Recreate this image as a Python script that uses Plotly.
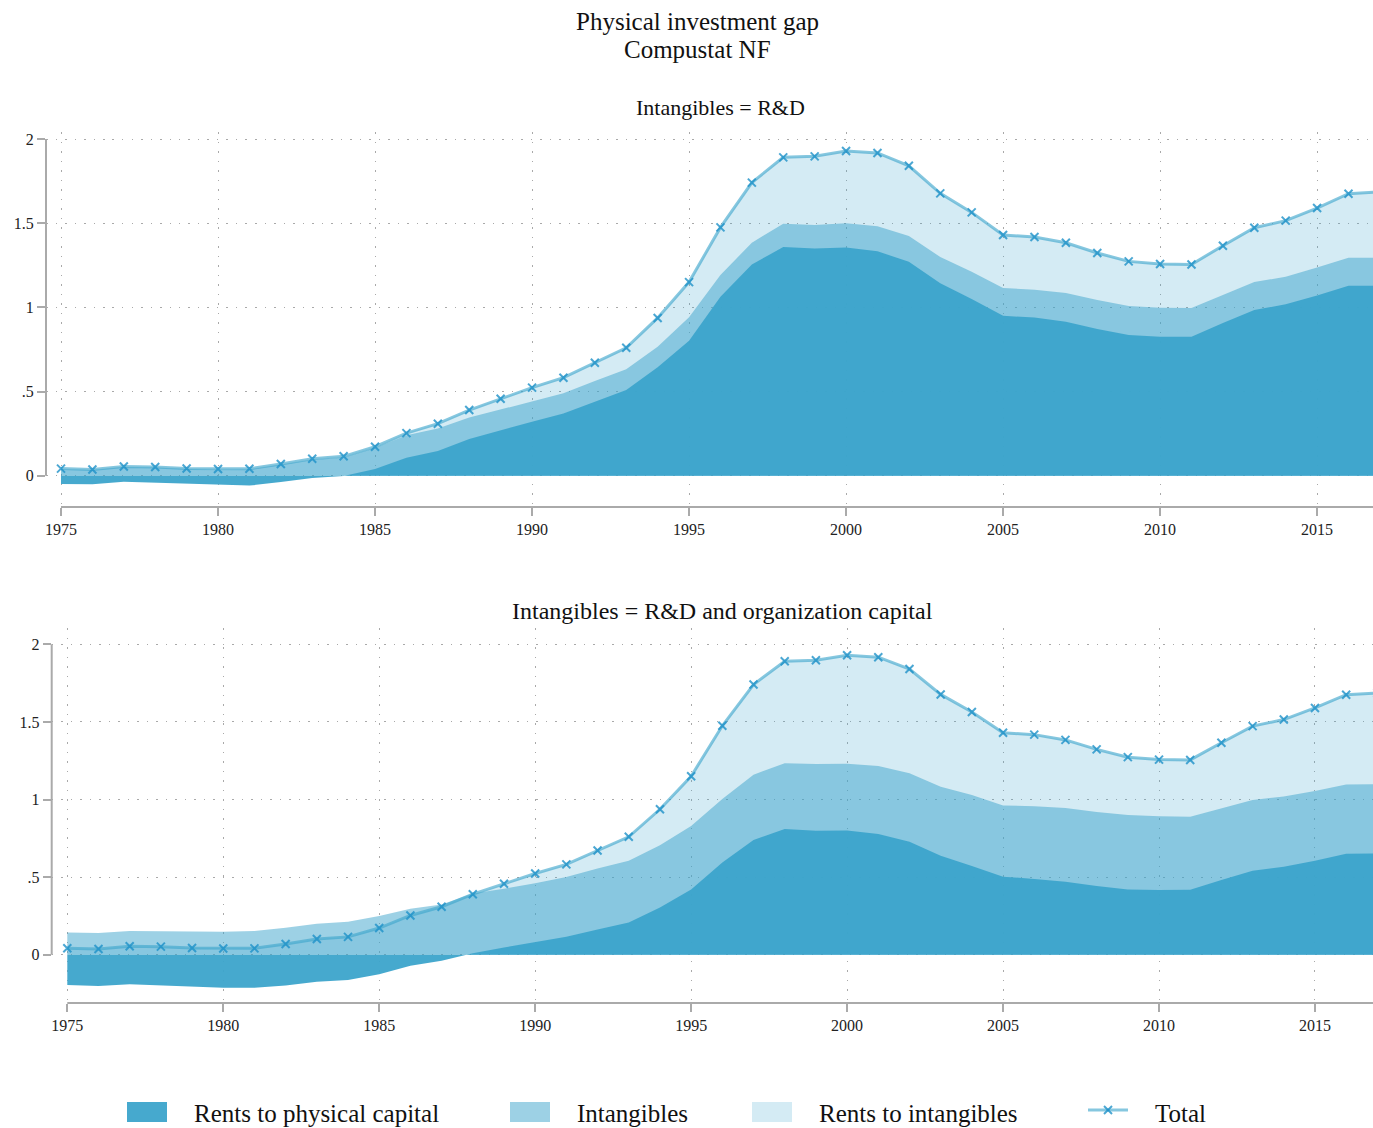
import plotly.graph_objects as go

W, H = 1373, 1128

years = list(range(1975, 2018))

# Total physical investment gap (same in both panels)
total = [0.042, 0.037, 0.055, 0.052, 0.043, 0.040, 0.041, 0.069, 0.101, 0.115,
         0.172, 0.253, 0.309, 0.390, 0.457, 0.523, 0.582, 0.671, 0.760, 0.937,
         1.150, 1.475, 1.741, 1.891, 1.897, 1.929, 1.917, 1.841, 1.677, 1.564,
         1.430, 1.418, 1.384, 1.323, 1.273, 1.257, 1.255, 1.366, 1.473, 1.515,
         1.590, 1.675, 1.687]

# Panel 1: Intangibles = R&D
phys_rd = [-0.050, -0.051, -0.036, -0.042, -0.050, -0.057, -0.059, -0.038, -0.014, -0.002,
           0.040, 0.107, 0.147, 0.218, 0.271, 0.321, 0.370, 0.440, 0.509, 0.644,
           0.802, 1.063, 1.255, 1.358, 1.349, 1.356, 1.333, 1.271, 1.143, 1.050,
           0.950, 0.939, 0.915, 0.871, 0.836, 0.826, 0.826, 0.907, 0.984, 1.018,
           1.071, 1.129, 1.129]
intang_rd = [0.088, 0.085, 0.087, 0.090, 0.090, 0.093, 0.096, 0.102, 0.109, 0.110,
             0.125, 0.133, 0.134, 0.127, 0.123, 0.119, 0.119, 0.122, 0.123, 0.122,
             0.139, 0.129, 0.129, 0.139, 0.140, 0.143, 0.148, 0.153, 0.156, 0.162,
             0.165, 0.166, 0.170, 0.173, 0.172, 0.172, 0.170, 0.166, 0.166, 0.164,
             0.165, 0.166, 0.166]

# Panel 2: Intangibles = R&D and organization capital
phys_oc = [-0.195, -0.202, -0.191, -0.198, -0.206, -0.213, -0.213, -0.198, -0.174, -0.163,
           -0.125, -0.071, -0.039, 0.009, 0.047, 0.082, 0.116, 0.163, 0.208, 0.305,
           0.421, 0.595, 0.739, 0.810, 0.799, 0.801, 0.778, 0.728, 0.638, 0.571,
           0.503, 0.488, 0.470, 0.443, 0.421, 0.417, 0.419, 0.481, 0.541, 0.567,
           0.606, 0.651, 0.653]
intang_oc = [0.339, 0.342, 0.344, 0.348, 0.354, 0.361, 0.366, 0.372, 0.374, 0.376,
             0.374, 0.367, 0.363, 0.386, 0.378, 0.378, 0.384, 0.393, 0.398, 0.400,
             0.408, 0.408, 0.421, 0.423, 0.430, 0.430, 0.438, 0.441, 0.445, 0.458,
             0.459, 0.468, 0.475, 0.476, 0.479, 0.475, 0.470, 0.462, 0.456, 0.453,
             0.449, 0.445, 0.445]

series_names = ["Rents to physical capital", "Intangibles", "Rents to intangibles", "Total"]
panel_titles = ["Intangibles = R&amp;D", "Intangibles = R&amp;D and organization capital"]
ytick_vals = [0, 0.5, 1, 1.5, 2]
ytick_text = ["0", ".5", "1", "1.5", "2"]
xtick_vals = list(range(1975, 2016, 5))

BASE = (60, 164, 203)
def rgba(a, c=BASE):
    return f"rgba({c[0]},{c[1]},{c[2]},{a})"

A_RENTS, A_INT, A_PHYS = 0.22, 0.5, 0.95
LINE_COL = "rgba(60,164,203,0.62)"
MARK_COL = "rgba(30,145,200,0.8)"
FONT = "Liberation Serif"
GRID = "#a9a9a9"
AXC = "#aaaaaa"

fig = go.Figure()

panels = [
    dict(phys=phys_rd, intang=intang_rd, xa="x", ya="y",
         xdom=[46 / W, 1], ydom=[1 - 507 / H, 1 - 132 / H],
         xr=[1974.522, 2016.78], yr=[-0.186, 2.0416]),
    dict(phys=phys_oc, intang=intang_oc, xa="x2", ya="y2",
         xdom=[51.7 / W, 1], ydom=[1 - 1003 / H, 1 - 628 / H],
         xr=[1974.5, 2016.86], yr=[-0.311, 2.105]),
]

for p in panels:
    phys_int = [a + b for a, b in zip(p["phys"], p["intang"])]
    fig.add_trace(go.Scatter(x=years, y=total, xaxis=p["xa"], yaxis=p["ya"], mode="lines",
                             line=dict(width=0), fill="tozeroy", fillcolor=rgba(A_RENTS),
                             showlegend=False, hoverinfo="skip"))
    fig.add_trace(go.Scatter(x=years, y=phys_int, xaxis=p["xa"], yaxis=p["ya"], mode="lines",
                             line=dict(width=0), fill="tozeroy", fillcolor=rgba(A_INT),
                             showlegend=False, hoverinfo="skip"))
    fig.add_trace(go.Scatter(x=years, y=p["phys"], xaxis=p["xa"], yaxis=p["ya"], mode="lines",
                             line=dict(width=0), fill="tozeroy", fillcolor=rgba(A_PHYS),
                             showlegend=False, hoverinfo="skip"))
    fig.add_trace(go.Scatter(x=years, y=total, xaxis=p["xa"], yaxis=p["ya"], mode="lines+markers",
                             line=dict(width=3, color=LINE_COL),
                             marker=dict(symbol="x-thin", size=8, line=dict(width=2, color=MARK_COL)),
                             showlegend=False))

axis_common = dict(showline=False, zeroline=False, ticks="outside", ticklen=8, tickwidth=1.5,
                   tickcolor=AXC, showgrid=True, gridcolor=GRID, gridwidth=1.2,
                   griddash="1.5px,8px", tickfont=dict(family=FONT, size=16, color="#222"))

layout = dict(width=W, height=H, margin=dict(l=0, r=0, t=0, b=0),
              paper_bgcolor="white", plot_bgcolor="white", showlegend=False,
              font=dict(family=FONT, color="#222"))
for i, p in enumerate(panels):
    sx = "" if i == 0 else "2"
    layout["xaxis" + sx] = dict(axis_common, domain=p["xdom"], range=p["xr"], tickvals=xtick_vals,
                                anchor=p["ya"])
    layout["yaxis" + sx] = dict(axis_common, domain=p["ydom"], range=p["yr"], tickvals=ytick_vals,
                                ticktext=ytick_text, anchor=p["xa"])
fig.update_layout(**layout)

# Axis lines (Stata-style: y axis spans 0..2, x axis starts at first year)
for p in panels:
    fig.add_shape(type="line", xref=p["xa"] + " domain", yref=p["ya"], x0=0, x1=0, y0=0, y1=2,
                  line=dict(color=AXC, width=2))
    fig.add_shape(type="line", xref=p["xa"], yref=p["ya"] + " domain", x0=years[0], x1=p["xr"][1],
                  y0=0, y1=0, line=dict(color=AXC, width=2))

def px(x):
    return x / W
def py(y):
    return 1 - y / H

def label(text, x, y, size, xanchor="center"):
    fig.add_annotation(text=text, x=px(x), y=py(y), xref="paper", yref="paper",
                       xanchor=xanchor, yanchor="middle", showarrow=False,
                       font=dict(family=FONT, size=size, color="#111"))

# Titles
label("Physical investment gap", 697, 22, 25)
label("Compustat NF", 697, 49, 25)
label(panel_titles[0], 720, 108, 22)
label(panel_titles[1], 723, 611, 24)

# Manual legend
leg_y = 1112
swatches = [(127, rgba(A_PHYS)), (510, rgba(A_INT)), (752, rgba(A_RENTS))]
for (x0, col), name in zip(swatches, series_names[:3]):
    fig.add_shape(type="rect", xref="paper", yref="paper", x0=px(x0), x1=px(x0 + 40),
                  y0=py(leg_y + 10), y1=py(leg_y - 10), fillcolor=col, line=dict(width=0))
    label(name, x0 + 65, leg_y + 1, 25, xanchor="left")
fig.add_shape(type="line", xref="paper", yref="paper", x0=px(1088), x1=px(1128),
              y0=py(leg_y - 2), y1=py(leg_y - 2), line=dict(color=LINE_COL, width=3))
for d in (-1, 1):
    fig.add_shape(type="line", xref="paper", yref="paper", x0=px(1104), x1=px(1112),
                  y0=py(leg_y - 2 - 4 * d), y1=py(leg_y - 2 + 4 * d),
                  line=dict(color=MARK_COL, width=2))
label(series_names[3], 1153, leg_y + 1, 25, xanchor="left")

fig.write_html("out.html", config={"displayModeBar": False},
               post_script="document.body.style.margin='0';document.body.style.overflow='hidden';")
